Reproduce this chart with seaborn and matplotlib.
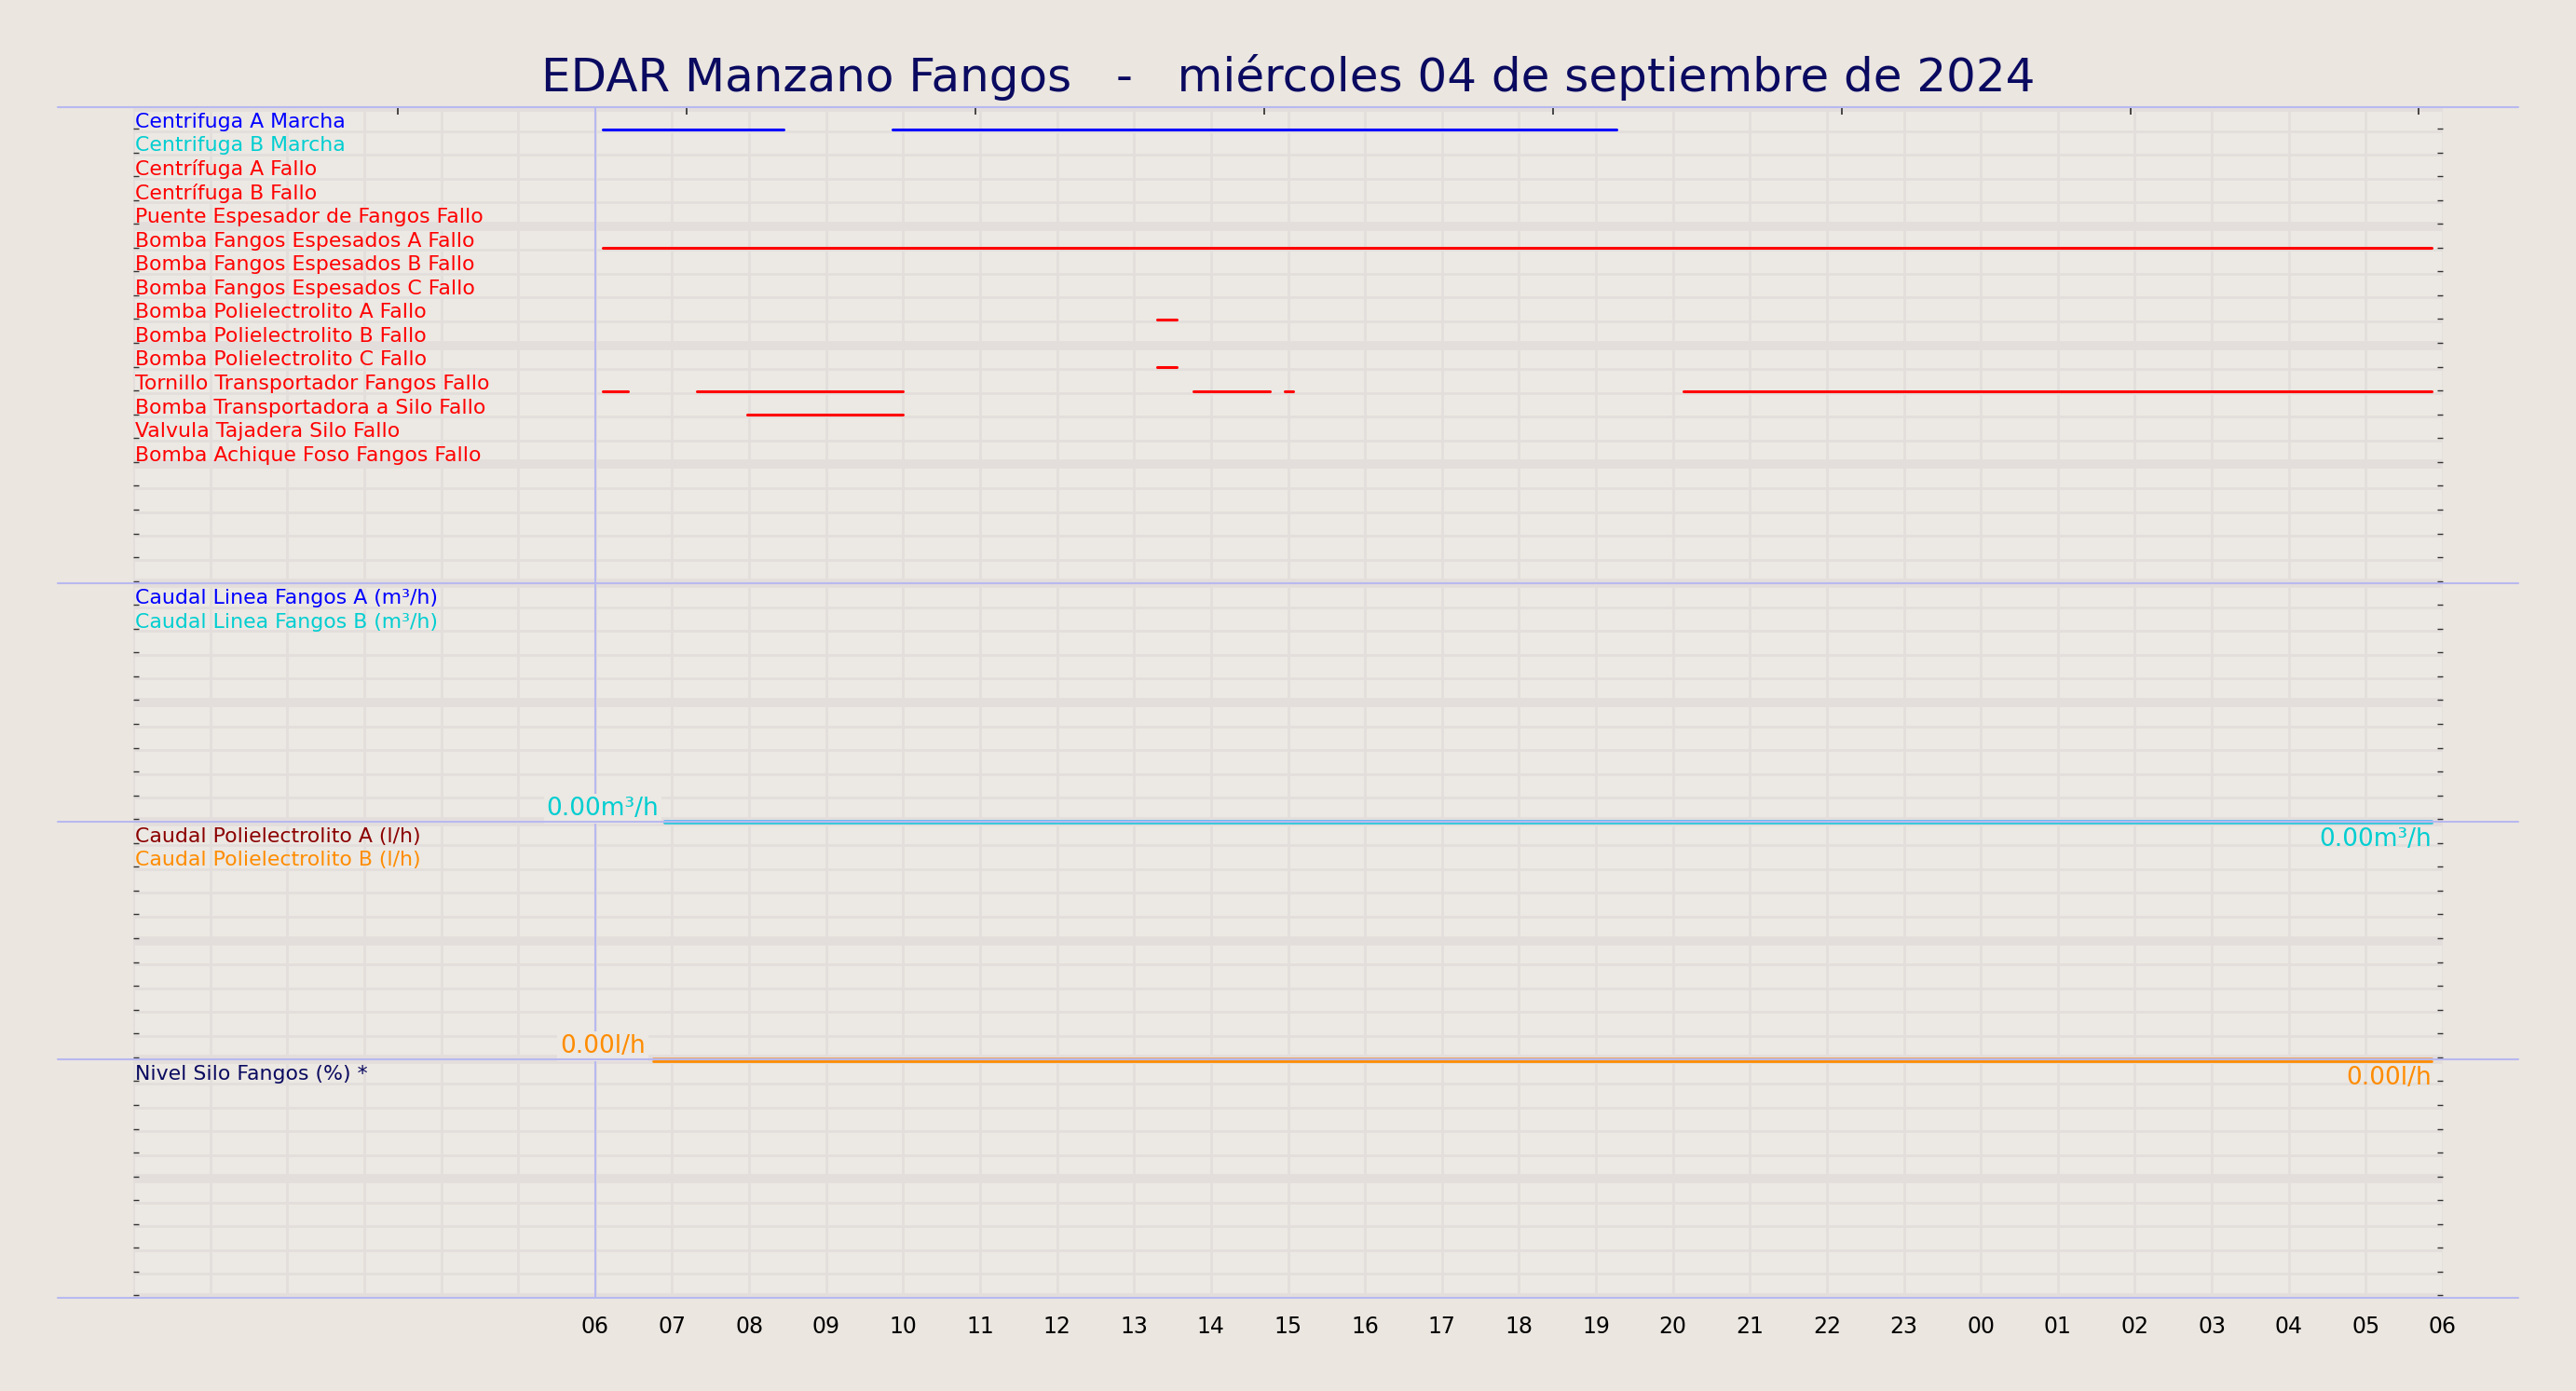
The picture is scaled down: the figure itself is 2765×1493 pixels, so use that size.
import matplotlib
matplotlib.use("Agg")
import matplotlib.pyplot as plt
import seaborn as sns
from matplotlib.lines import Line2D

BG = "#ebe6e0"
LAV = "#b8b8f0"

# filas digitales (panel 1)
signal_labels = [
    "Centrifuga A Marcha", "Centrifuga B Marcha", "Centrífuga A Fallo", "Centrífuga B Fallo",
    "Puente Espesador de Fangos Fallo", "Bomba Fangos Espesados A Fallo",
    "Bomba Fangos Espesados B Fallo", "Bomba Fangos Espesados C Fallo",
    "Bomba Polielectrolito A Fallo", "Bomba Polielectrolito B Fallo",
    "Bomba Polielectrolito C Fallo", "Tornillo Transportador Fangos Fallo",
    "Bomba Transportadora a Silo Fallo", "Valvula Tajadera Silo Fallo",
    "Bomba Achique Foso Fangos Fallo",
]
signal_colors = ["blue", "darkturquoise"] + ["red"] * 13

# intervalos activos (horas desde 00:00 del 04/09)
segments = {
    0: [(6.1, 8.45), (9.86, 19.27)],
    5: [(6.1, 29.85)],
    8: [(13.3, 13.55)],
    10: [(13.3, 13.55)],
    11: [(6.1, 6.43), (7.32, 10.0), (13.77, 14.77), (14.96, 15.07), (20.14, 29.85)],
    12: [(7.98, 10.0)],
}

caudal_labels = ["Caudal Linea Fangos A (m³/h)", "Caudal Linea Fangos B (m³/h)"]
caudal_colors = ["blue", "darkturquoise"]
caudal_start, caudal_end = 6.9, 29.85
caudal_value = 0.00

poli_labels = ["Caudal Polielectrolito A (l/h)", "Caudal Polielectrolito B (l/h)"]
poli_colors = ["darkred", "darkorange"]
poli_start, poli_end = 6.75, 29.85
poli_value = 0.00

nivel_labels = ["Nivel Silo Fangos (%) *"]
nivel_colors = ["#0a0a60"]

hour_ticks = list(range(6, 31))
hour_labels = [f"{h % 24:02d}" for h in hour_ticks]

sns.set_theme(style="white")
plt.rcParams["font.family"] = ["DejaVu Sans"]

fig = plt.figure(figsize=(27.65, 14.93), dpi=100, facecolor=BG)
ax = fig.add_axes([143 / 2765, 1 - 1393 / 1493, (2622 - 143) / 2765, (1393 - 115) / 1493])
ax.set_facecolor("#ece8e3")
ax.set_xlim(0, 30)
ax.set_ylim(50, 0)

# rejilla
for h in range(0, 31):
    ax.axvline(h, color="#e3dedc", lw=2, zorder=0)
for r in range(0, 51):
    ax.axhline(r, color="#e3dedc", lw=7 if r % 5 == 0 else 2, zorder=0)

# etiquetas de paneles
def put_labels(labels, colors, start):
    for i, (t, c) in enumerate(zip(labels, colors)):
        ax.text(0.02, start + i + 0.62, t, color=c, fontsize=15.8, va="center", ha="left")

put_labels(signal_labels, signal_colors, 0)
put_labels(caudal_labels, caudal_colors, 20)
put_labels(poli_labels, poli_colors, 30)
put_labels(nivel_labels, nivel_colors, 40)

for row, segs in segments.items():
    for a, b in segs:
        sns.lineplot(x=[a, b], y=[row + 0.92, row + 0.92], color=signal_colors[row], lw=2.2, ax=ax, legend=False)

# caudales
for y0, st, en, cols, val, unit in [(30, caudal_start, caudal_end, ["#55b8f0", "#33c8d8"], caudal_value, "m³/h"),
                                    (40, poli_start, poli_end, ["#f0a050", "darkorange"], poli_value, "l/h")]:
    sns.lineplot(x=[st, en], y=[y0 - 0.05, y0 - 0.05], color=cols[0], lw=2, ax=ax, legend=False)
    sns.lineplot(x=[st, en], y=[y0 + 0.05, y0 + 0.05], color=cols[1], lw=2, ax=ax, legend=False)
    txt_col = "darkturquoise" if unit == "m³/h" else "darkorange"
    ax.text(6.1, y0 - 0.55, f"{val:.2f}{unit}", color=txt_col, fontsize=19, ha="center", va="center",
            bbox=dict(facecolor="#ece8e3", edgecolor="none", pad=2))
    ax.text(29.85, y0 + 0.75, f"{val:.2f}{unit}", color=txt_col, fontsize=19, ha="right", va="center")

ax.axvline(6, color=LAV, lw=1.5, zorder=1)

ax.set_xticks(hour_ticks)
ax.set_xticklabels(hour_labels, fontsize=17, color="black")
ax.tick_params(axis="x", length=0, pad=14)
ax.set_yticks([r + 0.9 for r in range(50)])
ax.set_yticklabels([])
ax.tick_params(axis="y", left=True, right=True, direction="in", length=4, width=1, color="#333333")
sec = ax.secondary_xaxis("top")
sec.set_xticks([3.44 + 3.75 * k for k in range(8)])
sec.set_xticklabels([])
sec.tick_params(direction="in", length=6, color="#333333")
for s in sec.spines.values():
    s.set_visible(False)
for s in ax.spines.values():
    s.set_visible(False)

# separadores de paneles
for yp in [115, 626, 882, 1137, 1393]:
    fig.add_artist(Line2D([62 / 2765, 2703 / 2765], [1 - yp / 1493] * 2, color=LAV, lw=1.5,
                          transform=fig.transFigure, zorder=0.5))

fig.suptitle("EDAR Manzano Fangos   -   miércoles 04 de septiembre de 2024",
             fontsize=36, color="#0a0a60", y=1 - 83 / 1493, va="center")

fig.savefig("out.png", dpi=100, facecolor=BG)
